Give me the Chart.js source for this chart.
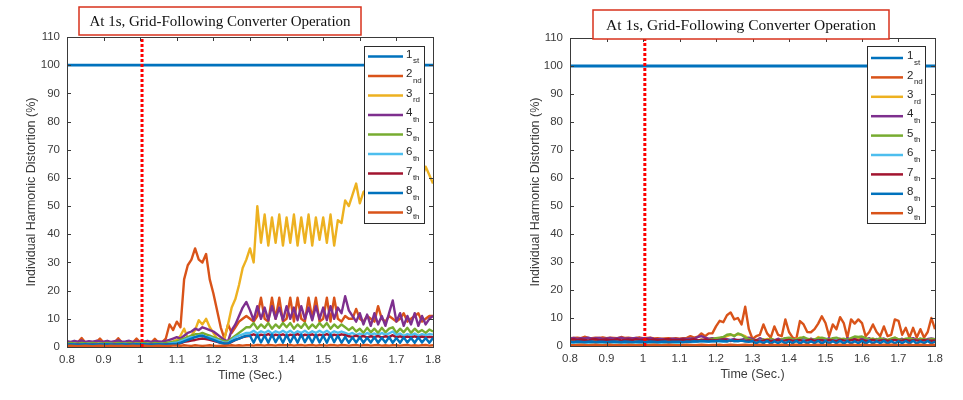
<!DOCTYPE html>
<html>
<head>
<meta charset="utf-8">
<script src="https://cdn.jsdelivr.net/npm/chart.js@4.4.0/dist/chart.umd.min.js"></script>
<style>
    body { margin: 0; background: #ffffff; }
    #contenedor { position: relative; width: 963px; height: 400px; }
    #grafico-izq { position: absolute; left: 0; top: 0; }
    #grafico-der { position: absolute; left: 480px; top: 0; }
</style>
</head>
<body>
<div id="contenedor">
    <canvas id="grafico-izq" width="480" height="400"></canvas>
    <canvas id="grafico-der" width="483" height="400"></canvas>
</div>
<script>
// Eje de tiempo compartido (s)
const tiempo = [
    0.80, 0.81, 0.82, 0.83, 0.84, 0.85, 0.86, 0.87, 0.88, 0.89,
    0.90, 0.91, 0.92, 0.93, 0.94, 0.95, 0.96, 0.97, 0.98, 0.99,
    1.00, 1.01, 1.02, 1.03, 1.04, 1.05, 1.06, 1.07, 1.08, 1.09,
    1.10, 1.11, 1.12, 1.13, 1.14, 1.15, 1.16, 1.17, 1.18, 1.19,
    1.20, 1.21, 1.22, 1.23, 1.24, 1.25, 1.26, 1.27, 1.28, 1.29,
    1.30, 1.31, 1.32, 1.33, 1.34, 1.35, 1.36, 1.37, 1.38, 1.39,
    1.40, 1.41, 1.42, 1.43, 1.44, 1.45, 1.46, 1.47, 1.48, 1.49,
    1.50, 1.51, 1.52, 1.53, 1.54, 1.55, 1.56, 1.57, 1.58, 1.59,
    1.60, 1.61, 1.62, 1.63, 1.64, 1.65, 1.66, 1.67, 1.68, 1.69,
    1.70, 1.71, 1.72, 1.73, 1.74, 1.75, 1.76, 1.77, 1.78, 1.79,
    1.80
]
const tiempoFundamental = [0.8, 1.8]

const ticksX = [0.8, 0.9, 1.0, 1.1, 1.2, 1.3, 1.4, 1.5, 1.6, 1.7, 1.8]
const etiquetasX = ['0.8', '0.9', '1', '1.1', '1.2', '1.3', '1.4', '1.5', '1.6', '1.7', '1.8']
const ticksY = [0, 10, 20, 30, 40, 50, 60, 70, 80, 90, 100, 110]

const ordinales = ['1', '2', '3', '4', '5', '6', '7', '8', '9']
const sufijos = ['st', 'nd', 'rd', 'th', 'th', 'th', 'th', 'th', 'th']
const coloresArmonicos = ['#0072BD', '#D95319', '#EDB120', '#7E2F8E', '#77AC30', '#4DBEEE', '#A2142F', '#0072BD', '#D95319']

const instanteEvento = 1.005
const tituloGrafico = 'At 1s, Grid-Following Converter Operation'
const tituloEjeX = 'Time (Sec.)'
const tituloEjeY = 'Individual Harmonic Distortion (%)'

// ---------- Grafico izquierdo ----------
const izq1 = [100, 100]
const izq2 = [
    1.5, 1.6, 1.5, 1.7, 3.2, 1.6, 1.5, 1.6, 1.7, 3.0,
    1.6, 1.5, 1.7, 1.6, 3.1, 1.6, 1.5, 1.7, 1.6, 3.0,
    1.6, 1.5, 1.7, 1.6, 2.9, 1.6, 1.7, 3.0, 8.0, 6.0,
    9, 7, 24, 29, 31, 35, 31, 30, 33, 24,
    19, 13, 7, 3, 8, 5, 7, 9, 10, 11,
    10, 9, 11, 17.5, 10, 9, 17.5, 10, 17.5, 9,
    10, 17.5, 9, 17.5, 10, 9, 17.5, 10, 17.5, 9,
    10, 17.5, 9, 17.5, 10, 9, 11, 10, 10, 13.5,
    10, 9, 11, 10, 9, 14.5, 10, 9, 11, 10,
    9, 10, 12, 9, 10, 11, 12, 9, 10, 11,
    11
]
const izq3 = [
    1.2, 1.1, 1.3, 1.2, 1.2, 1.1, 1.3, 1.2, 1.2, 1.1,
    1.2, 1.3, 1.1, 1.2, 1.2, 1.3, 1.1, 1.2, 1.2, 1.3,
    1.2, 1.1, 1.3, 1.2, 1.2, 1.3, 1.2, 1.4, 1.6, 2.0,
    2.5, 4.0, 6.5, 3.0, 4.0, 6.0, 9.5, 8.0, 10, 7.0,
    5.0, 3.0, 2.5, 3.0, 8.0, 14, 17, 22, 28, 31,
    35, 30, 50, 37, 47, 36, 46, 37, 47, 36,
    46, 37, 47, 36, 46, 37, 47, 36, 46, 38,
    46, 37, 47, 36, 45, 44, 52, 50, 54, 58,
    51, 55, 56, 58, 55, 57, 59, 56, 58, 60,
    58, 60, 61, 59, 62, 60, 61, 60, 64, 61,
    58
]
const izq4 = [
    2.1, 1.8, 2.2, 1.9, 2.3, 1.8, 2.1, 1.9, 2.2, 2.0,
    1.9, 2.2, 1.8, 2.1, 2.3, 1.9, 2.0, 2.2, 1.8, 2.1,
    2.0, 1.9, 2.2, 1.8, 2.1, 2.0, 1.9, 2.2, 2.5, 3.0,
    3.5, 3.0, 4.0, 5.0, 5.5, 6.5, 6.0, 7.0, 6.5, 6.0,
    5.5, 4.5, 3.5, 2.5, 2.0, 6.0, 8.0, 11, 14, 16,
    13, 9.5, 14.5, 10, 14, 9.5, 14.5, 10, 14, 9.5,
    14.5, 10, 14, 9.5, 14.5, 10, 14, 9.5, 14.5, 10,
    14, 9.5, 14.5, 10, 14, 12, 18, 13, 11, 9,
    12, 8, 11.5, 7.5, 12, 8, 11, 7.5, 12, 16.5,
    9, 12, 7.5, 11, 8, 12, 7.5, 11, 8, 10,
    11
]
const izq5 = [
    1.3, 1.4, 1.3, 1.2, 1.4, 1.3, 1.3, 1.4, 1.2, 1.3,
    1.3, 1.4, 1.3, 1.2, 1.4, 1.3, 1.3, 1.4, 1.2, 1.3,
    1.3, 1.4, 1.3, 1.2, 1.4, 1.3, 1.3, 1.4, 1.6, 1.8,
    2.0, 2.5, 3.0, 3.5, 4.0, 4.5, 4.5, 5.0, 4.5, 4.0,
    3.5, 3.0, 2.5, 2.0, 2.0, 3.0, 4.0, 5.0, 6.0, 7.0,
    7.0, 8.5, 6.5, 8.0, 6.8, 8.5, 6.5, 8.0, 6.8, 8.5,
    7.0, 8.5, 6.5, 8.0, 6.8, 8.5, 6.5, 8.0, 6.8, 8.5,
    7.0, 8.5, 6.5, 8.0, 6.8, 8.0, 7.0, 6.0, 7.0, 5.5,
    6.5, 5.0, 6.8, 5.2, 6.5, 5.0, 6.8, 5.2, 6.5, 7.0,
    5.0, 6.5, 5.2, 6.8, 5.0, 6.5, 5.2, 6.0, 5.0, 6.2,
    5.5
]
const izq6 = [
    1.0, 0.9, 1.1, 1.0, 0.9, 1.0, 1.1, 0.9, 1.0, 1.0,
    1.0, 0.9, 1.1, 1.0, 0.9, 1.0, 1.1, 0.9, 1.0, 1.0,
    1.0, 0.9, 1.1, 1.0, 0.9, 1.0, 1.1, 0.9, 1.2, 1.4,
    1.5, 2.0, 2.5, 3.0, 3.5, 3.5, 4.0, 4.0, 3.5, 3.5,
    3.0, 2.5, 2.0, 1.5, 1.5, 2.5, 3.5, 4.0, 4.5, 5.0,
    5.0, 5.8, 4.8, 5.6, 5.0, 5.8, 4.8, 5.6, 5.0, 5.8,
    5.0, 5.8, 4.8, 5.6, 5.0, 5.8, 4.8, 5.6, 5.0, 5.8,
    5.0, 5.8, 4.8, 5.6, 5.0, 5.5, 5.0, 4.5, 5.0, 4.2,
    4.8, 4.2, 5.0, 4.3, 4.8, 4.2, 5.0, 4.3, 4.8, 5.5,
    4.2, 4.8, 4.0, 4.6, 4.2, 4.8, 4.0, 4.6, 4.2, 4.6,
    4.4
]
const izq7 = [
    0.8, 0.7, 0.8, 0.9, 0.8, 0.7, 0.8, 0.9, 0.8, 0.7,
    0.8, 0.7, 0.8, 0.9, 0.8, 0.7, 0.8, 0.9, 0.8, 0.7,
    0.8, 0.7, 0.8, 0.9, 0.8, 0.7, 0.8, 0.9, 0.9, 1.0,
    1.0, 1.3, 1.8, 2.0, 2.3, 2.5, 2.8, 3.0, 2.8, 2.5,
    2.2, 1.8, 1.5, 1.2, 1.2, 1.8, 2.5, 3.0, 3.5, 3.8,
    4.0, 4.5, 3.8, 4.4, 4.0, 4.6, 3.8, 4.4, 4.0, 4.5,
    3.8, 4.4, 4.0, 4.6, 3.8, 4.4, 4.0, 4.5, 3.8, 4.4,
    4.0, 4.6, 3.8, 4.4, 4.0, 4.5, 4.2, 3.8, 3.6, 4.0,
    3.5, 3.9, 3.4, 3.8, 3.5, 3.9, 3.4, 3.8, 3.5, 4.2,
    3.4, 3.8, 3.3, 3.7, 3.4, 3.8, 3.3, 3.7, 3.4, 3.6,
    3.5
]
const izq8 = [
    0.9, 1.0, 0.9, 0.8, 0.9, 1.0, 0.9, 0.8, 0.9, 1.0,
    0.9, 1.0, 0.9, 0.8, 0.9, 1.0, 0.9, 0.8, 0.9, 1.0,
    0.9, 1.0, 0.9, 0.8, 0.9, 1.0, 0.9, 0.8, 1.0, 1.1,
    1.2, 1.5, 2.0, 2.5, 3.0, 3.5, 3.8, 4.0, 3.5, 3.0,
    2.5, 2.0, 1.5, 1.2, 1.2, 2.0, 2.5, 3.0, 3.5, 4.0,
    4.0, 1.5, 4.3, 1.6, 4.1, 1.5, 4.4, 1.7, 4.0, 1.5,
    4.3, 1.6, 4.1, 1.5, 4.4, 1.7, 4.0, 1.5, 4.3, 1.6,
    4.1, 1.5, 4.4, 1.7, 4.0, 1.5, 3.6, 1.5, 3.4, 1.6,
    3.5, 1.5, 3.3, 1.6, 3.5, 1.5, 3.3, 1.6, 3.5, 1.5,
    3.2, 1.5, 3.4, 1.6, 3.2, 1.5, 3.4, 1.6, 3.2, 1.5,
    3.2
]
const izq9 = [
    0.4, 0.5, 0.4, 0.3, 0.4, 0.5, 0.4, 0.3, 0.4, 0.5,
    0.4, 0.3, 0.5, 0.4, 0.4, 0.5, 0.3, 0.4, 0.5, 0.4,
    0.4, 0.5, 0.4, 0.3, 0.4, 0.5, 0.4, 0.3, 0.4, 0.5,
    0.5, 0.4, 0.6, 0.5, 0.4, 0.6, 0.5, 0.4, 0.5, 0.6,
    0.5, 0.4, 0.5, 0.4, 0.5, 0.6, 0.5, 0.6, 0.5, 0.6,
    0.6, 0.5, 0.7, 0.6, 0.5, 0.7, 0.6, 0.5, 0.7, 0.6,
    0.6, 0.7, 0.5, 0.6, 0.7, 0.5, 0.6, 0.7, 0.5, 0.6,
    0.6, 0.5, 0.7, 0.6, 0.5, 0.7, 0.6, 0.5, 0.6, 0.7,
    0.5, 0.6, 0.7, 0.5, 0.6, 0.7, 0.5, 0.6, 0.5, 0.6,
    0.6, 0.5, 0.6, 0.7, 0.5, 0.6, 0.5, 0.6, 0.7, 0.5,
    0.6
]

// ---------- Grafico derecho ----------
const der1 = [100, 100]
const der2 = [
    2.8, 2.9, 3.0, 2.8, 3.3, 2.9, 2.8, 3.0, 2.9, 3.1,
    2.8, 3.0, 2.9, 2.8, 3.2, 2.9, 3.0, 2.8, 2.9, 3.1,
    2.8, 2.9, 3.0, 2.7, 2.8, 2.6, 2.7, 2.8, 2.6, 2.8,
    2.6, 2.8, 2.9, 3.5, 3.0, 3.3, 4.5, 3.5, 4.5, 4.5,
    7.0, 9.0, 8.5, 11, 12, 9.5, 10, 7.7, 14, 6.0,
    2.5, 3.5, 4.0, 7.7, 4.5, 3.0, 7.0, 4.0, 3.5, 9.5,
    5.0, 3.0, 2.5, 8.9, 7.7, 5.0, 4.9, 6.0, 8.0, 10.6,
    8.2, 3.5, 7.7, 6.0, 10.3, 8.2, 3.0, 9.5, 8.0, 9.5,
    8.2, 3.5, 5.0, 7.7, 5.0, 3.5, 7.0, 3.5, 4.0, 9.5,
    9.0, 4.0, 6.5, 3.0, 6.5, 3.0, 6.0, 3.0, 5.0, 10,
    6.0
]
const der3 = [
    1.6, 1.7, 1.5, 1.6, 1.8, 1.6, 1.5, 1.7, 1.6, 1.5,
    1.6, 1.5, 1.7, 1.6, 1.5, 1.8, 1.6, 1.7, 1.5, 1.6,
    1.7, 1.6, 1.5, 1.6, 1.8, 1.6, 1.5, 1.7, 1.6, 1.5,
    1.6, 1.7, 1.8, 2.0, 2.2, 2.0, 2.3, 2.0, 2.2, 2.5,
    2.5, 2.8, 3.0, 3.5, 4.0, 3.8, 4.2, 4.0, 3.5, 2.5,
    2.0, 1.8, 2.2, 2.0, 2.5, 2.2, 2.0, 2.4, 2.0, 2.6,
    2.2, 2.0, 2.5, 3.0, 2.4, 2.2, 2.6, 2.0, 3.2, 2.5,
    2.2, 2.0, 2.4, 2.6, 2.0, 2.2, 2.5, 2.0, 2.3, 2.6,
    2.4, 2.0, 2.2, 2.6, 2.0, 2.4, 2.2, 2.0, 2.5, 3.0,
    2.2, 2.0, 2.4, 2.2, 2.0, 2.3, 2.1, 2.0, 2.2, 2.4,
    2.2
]
const der4 = [
    2.6, 2.9, 2.5, 2.8, 2.7, 3.0, 2.6, 2.8, 2.9, 2.5,
    2.7, 2.9, 2.6, 2.8, 3.0, 2.6, 2.8, 2.7, 2.9, 2.6,
    2.8, 2.7, 2.9, 2.5, 2.4, 2.5, 2.3, 2.4, 2.6, 2.5,
    2.4, 2.6, 2.5, 2.7, 2.6, 3.2, 3.5, 3.0, 2.6, 2.8,
    2.5, 2.3, 2.6, 2.4, 2.2, 2.5, 2.0, 2.3, 2.6, 3.0,
    2.5, 2.0, 2.8, 2.2, 1.8, 2.4, 2.0, 2.6, 2.2, 2.8,
    2.0, 2.5, 1.8, 2.4, 2.8, 2.0, 2.6, 2.2, 1.9, 2.5,
    2.2, 2.8, 2.0, 2.4, 2.6, 2.0, 2.8, 2.2, 2.5, 2.0,
    2.6, 2.2, 2.8, 2.0, 2.5, 2.2, 2.7, 2.0, 2.4, 2.8,
    2.2, 2.6, 2.0, 2.5, 2.8, 2.2, 2.6, 2.0, 2.5, 2.7,
    2.4
]
const der5 = [
    1.4, 1.5, 1.3, 1.4, 1.5, 1.4, 1.3, 1.5, 1.4, 1.3,
    1.4, 1.3, 1.5, 1.4, 1.3, 1.5, 1.4, 1.3, 1.4, 1.5,
    1.4, 1.5, 1.3, 1.4, 1.5, 1.4, 1.3, 1.5, 1.4, 1.3,
    1.4, 1.5, 1.6, 1.8, 1.7, 2.0, 2.2, 2.0, 2.2, 2.5,
    2.8, 3.0, 3.2, 4.0, 4.2, 3.5, 4.5, 4.0, 3.0, 2.5,
    2.0, 2.2, 1.8, 2.4, 2.0, 2.6, 2.2, 2.0, 2.4, 2.8,
    3.0, 2.4, 2.2, 2.8, 3.2, 2.6, 2.2, 2.4, 2.8, 3.0,
    2.6, 2.2, 2.8, 3.0, 2.4, 2.6, 2.2, 2.8, 3.4, 3.2,
    3.4, 2.8, 2.4, 2.6, 2.2, 2.8, 2.4, 2.2, 2.6, 3.0,
    2.4, 2.2, 2.6, 2.8, 2.4, 2.2, 2.6, 2.4, 2.2, 2.5,
    2.4
]
const der6 = [
    1.2, 1.1, 1.3, 1.2, 1.1, 1.2, 1.3, 1.1, 1.2, 1.2,
    1.1, 1.2, 1.3, 1.2, 1.1, 1.2, 1.1, 1.3, 1.2, 1.1,
    1.2, 1.1, 1.3, 1.2, 1.1, 1.2, 1.3, 1.1, 1.2, 1.2,
    1.2, 1.3, 1.4, 1.5, 1.4, 1.6, 1.8, 1.6, 1.5, 1.7,
    1.8, 1.6, 1.5, 1.8, 2.0, 1.7, 1.9, 2.2, 2.0, 1.8,
    1.6, 1.9, 2.2, 1.7, 1.5, 2.0, 1.8, 1.6, 2.1, 1.7,
    1.8, 2.0, 1.6, 1.9, 2.2, 1.7, 1.5, 2.0, 1.8, 1.6,
    2.1, 1.7, 1.9, 2.2, 1.6, 1.8, 2.0, 1.5, 1.9, 2.1,
    1.7, 1.9, 2.2, 1.6, 1.8, 2.0, 1.7, 1.5, 1.9, 2.2,
    1.6, 1.8, 2.0, 1.7, 1.9, 2.1, 1.6, 1.8, 2.0, 1.7,
    1.8
]
const der7 = [
    2.2, 2.4, 2.1, 2.3, 2.2, 2.0, 2.3, 2.4, 2.1, 2.2,
    2.3, 2.1, 2.2, 2.4, 2.0, 2.2, 2.3, 2.1, 2.4, 2.2,
    2.2, 2.4, 2.1, 2.3, 2.2, 2.0, 2.3, 2.4, 2.1, 2.2,
    2.2, 2.3, 2.1, 2.2, 2.4, 2.0, 2.2, 2.3, 2.1, 2.2,
    2.0, 2.2, 2.3, 2.0, 1.8, 2.0, 2.2, 2.1, 1.9, 2.0,
    1.8, 2.1, 1.9, 2.0, 2.2, 1.8, 2.0, 2.1, 1.9, 2.0,
    2.2, 1.9, 2.0, 2.1, 1.8, 2.0, 2.2, 1.9, 2.1, 2.0,
    1.9, 2.1, 2.0, 1.8, 2.2, 2.0, 1.9, 2.1, 2.3, 2.0,
    2.1, 1.9, 2.0, 2.2, 1.8, 2.0, 2.1, 1.9, 2.0, 2.2,
    1.9, 2.0, 2.2, 1.8, 2.1, 2.0, 1.9, 2.1, 2.0, 1.9,
    2.0
]
const der8 = [
    1.5, 1.4, 1.6, 1.5, 1.4, 1.5, 1.6, 1.4, 1.5, 1.5,
    1.4, 1.5, 1.6, 1.5, 1.4, 1.6, 1.5, 1.4, 1.5, 1.6,
    1.5, 1.4, 1.6, 1.5, 1.4, 1.5, 1.6, 1.4, 1.5, 1.5,
    1.5, 1.4, 1.6, 1.5, 1.7, 1.6, 1.8, 1.7, 1.6, 1.8,
    1.7, 1.9, 1.8, 1.6, 2.0, 1.8, 1.7, 1.9, 1.6, 1.5,
    1.8, 0.9, 1.7, 1.0, 1.9, 0.8, 1.7, 1.0, 1.8, 0.9,
    1.7, 1.0, 1.9, 0.8, 1.8, 0.9, 1.7, 1.0, 1.9, 0.8,
    1.8, 0.9, 1.7, 1.0, 1.9, 0.8, 1.8, 0.9, 1.7, 1.0,
    1.9, 0.8, 1.8, 0.9, 1.7, 1.0, 1.9, 0.8, 1.8, 0.9,
    1.7, 1.0, 1.8, 0.9, 1.9, 0.8, 1.7, 1.0, 1.8, 0.9,
    1.5
]
const der9 = [
    0.4, 0.3, 0.4, 0.5, 0.4, 0.3, 0.4, 0.5, 0.4, 0.3,
    0.4, 0.5, 0.3, 0.4, 0.4, 0.3, 0.5, 0.4, 0.3, 0.4,
    0.4, 0.3, 0.4, 0.5, 0.4, 0.3, 0.4, 0.5, 0.4, 0.3,
    0.3, 0.4, 0.5, 0.4, 0.3, 0.4, 0.5, 0.4, 0.3, 0.4,
    0.4, 0.5, 0.3, 0.4, 0.5, 0.4, 0.3, 0.4, 0.5, 0.4,
    0.4, 0.3, 0.5, 0.4, 0.3, 0.5, 0.4, 0.3, 0.5, 0.4,
    0.3, 0.4, 0.5, 0.3, 0.4, 0.5, 0.3, 0.4, 0.5, 0.3,
    0.4, 0.5, 0.3, 0.4, 0.5, 0.3, 0.4, 0.5, 0.4, 0.3,
    0.5, 0.4, 0.3, 0.5, 0.4, 0.3, 0.5, 0.4, 0.5, 0.4,
    0.4, 0.3, 0.4, 0.5, 0.3, 0.4, 0.5, 0.4, 0.3, 0.4,
    0.4
]

// Marco tipo MATLAB, leyenda con subindices y recuadro del titulo
const marcoMatlab = {
    id: 'marcoMatlab',
    afterDatasetsDraw(chart, args, opts) {
        const ctx = chart.ctx
        const ley = opts.leyenda
        ctx.save()
        ctx.fillStyle = '#ffffff'
        ctx.fillRect(ley.x, ley.y, ley.w, ley.h)
        ctx.strokeStyle = '#2b2b2b'
        ctx.lineWidth = 1
        ctx.strokeRect(ley.x + 0.5, ley.y + 0.5, ley.w, ley.h)
        ordinales.forEach((num, k) => {
            const y = ley.fila0 + k * ley.dy
            ctx.strokeStyle = coloresArmonicos[k]
            ctx.lineWidth = 2.5
            ctx.beginPath()
            ctx.moveTo(ley.linea0, y)
            ctx.lineTo(ley.linea1, y)
            ctx.stroke()
            ctx.fillStyle = '#262626'
            ctx.textBaseline = 'middle'
            ctx.font = '11.5px "Liberation Sans", Arial, sans-serif'
            ctx.fillText(num, ley.texto, y - 2)
            const anchoNum = ctx.measureText(num).width
            ctx.font = '8px "Liberation Sans", Arial, sans-serif'
            ctx.fillText(sufijos[k], ley.texto + anchoNum + 0.5, y + 4.5)
        })
        ctx.restore()
    },
    afterDraw(chart, args, opts) {
        const ctx = chart.ctx
        const area = chart.chartArea
        const { x, y } = chart.scales
        const largo = 4
        ctx.save()
        ctx.strokeStyle = '#3a3a3a'
        ctx.lineWidth = 1
        ctx.strokeRect(Math.round(area.left) + 0.5, Math.round(area.top) + 0.5,
            Math.round(area.right - area.left), Math.round(area.bottom - area.top))
        ctx.beginPath()
        ticksX.forEach(v => {
            const px = Math.round(x.getPixelForValue(v)) + 0.5
            ctx.moveTo(px, area.bottom)
            ctx.lineTo(px, area.bottom - largo)
            ctx.moveTo(px, area.top)
            ctx.lineTo(px, area.top + largo)
        })
        ticksY.forEach(v => {
            const py = Math.round(y.getPixelForValue(v)) + 0.5
            ctx.moveTo(area.left, py)
            ctx.lineTo(area.left + largo, py)
            ctx.moveTo(area.right, py)
            ctx.lineTo(area.right - largo, py)
        })
        ctx.stroke()

        // recuadro del titulo
        const t = opts.titulo
        ctx.fillStyle = '#ffffff'
        ctx.fillRect(t.x, t.y, t.w, t.h)
        ctx.strokeStyle = '#d8321c'
        ctx.lineWidth = 1.5
        ctx.strokeRect(t.x, t.y, t.w, t.h)
        ctx.fillStyle = '#111111'
        ctx.font = t.fuente + ' "Liberation Serif", "Times New Roman", serif'
        ctx.textAlign = 'center'
        ctx.textBaseline = 'middle'
        ctx.fillText(tituloGrafico, t.x + t.w / 2, t.y + t.h / 2 + 1)
        ctx.restore()
    }
}

function graficoArmonicos(idCanvas, series, geo) {
    const canvas = document.getElementById(idCanvas)
    const contexto = canvas.getContext('2d')

    const datasets = series.map((valores, k) => {
        const tiempos = k === 0 ? tiempoFundamental : tiempo
        return {
            label: ordinales[k] + sufijos[k],
            data: tiempos.map((t, i) => ({ x: t, y: valores[i] })),
            borderColor: coloresArmonicos[k],
            borderWidth: k === 0 ? 2.8 : 2.4,
            borderJoinStyle: 'round',
            pointRadius: 0,
            tension: 0,
            order: 10 - k
        }
    })
    // linea punteada del evento en t = 1 s
    datasets.push({
        label: 'evento',
        data: [{ x: instanteEvento, y: 0 }, { x: instanteEvento, y: 110 }],
        borderColor: '#ff0000',
        borderWidth: 3,
        borderDash: [3, 2],
        pointRadius: 0,
        order: 0
    })

    const colorTexto = '#3c3c3c'

    return new Chart(contexto, {
        type: 'line',
        data: { datasets },
        plugins: [marcoMatlab],
        options: {
            responsive: false,
            animation: false,
            devicePixelRatio: 1,
            layout: { padding: { left: 0, right: geo.padDer, top: geo.padSup, bottom: geo.padInf } },
            plugins: {
                legend: { display: false },
                tooltip: { enabled: false },
                title: { display: false },
                marcoMatlab: { leyenda: geo.leyenda, titulo: geo.titulo }
            },
            scales: {
                x: {
                    type: 'linear',
                    min: 0.8,
                    max: 1.8,
                    afterBuildTicks: s => { s.ticks = ticksX.map(v => ({ value: v })) },
                    afterFit: s => { s.height = geo.altoEjeX },
                    grid: { display: false, drawTicks: false },
                    border: { display: false },
                    ticks: {
                        autoSkip: false,
                        maxRotation: 0,
                        padding: 6,
                        color: colorTexto,
                        font: { family: '"Liberation Sans", Arial, sans-serif', size: 11.5 },
                        callback: (v, i) => etiquetasX[i]
                    },
                    title: {
                        display: true,
                        text: tituloEjeX,
                        color: colorTexto,
                        padding: { top: 0, bottom: 0 },
                        font: { family: '"Liberation Sans", Arial, sans-serif', size: 12.5 }
                    }
                },
                y: {
                    min: 0,
                    max: 110,
                    afterBuildTicks: s => { s.ticks = ticksY.map(v => ({ value: v })) },
                    afterFit: s => { s.width = geo.anchoEjeY },
                    grid: { display: false, drawTicks: false },
                    border: { display: false },
                    ticks: {
                        padding: 7,
                        color: colorTexto,
                        font: { family: '"Liberation Sans", Arial, sans-serif', size: 11.5 },
                        callback: v => String(v)
                    },
                    title: {
                        display: true,
                        text: tituloEjeY,
                        color: colorTexto,
                        padding: { top: geo.padTituloY, bottom: 0 },
                        font: { family: '"Liberation Sans", Arial, sans-serif', size: 12.5 }
                    }
                }
            }
        }
    })
}

graficoArmonicos('grafico-izq', [izq1, izq2, izq3, izq4, izq5, izq6, izq7, izq8, izq9], {
    anchoEjeY: 67, altoEjeX: 36, padDer: 47, padSup: 37, padInf: 17, padTituloY: 24,
    leyenda: { x: 364, y: 46, w: 60, h: 177, linea0: 368, linea1: 403, texto: 406, fila0: 56.5, dy: 19.5 },
    titulo: { x: 79, y: 7, w: 282, h: 28, fuente: '15px' }
})

graficoArmonicos('grafico-der', [der1, der2, der3, der4, der5, der6, der7, der8, der9], {
    anchoEjeY: 90, altoEjeX: 36, padDer: 28, padSup: 38, padInf: 18, padTituloY: 48,
    leyenda: { x: 387, y: 46, w: 58, h: 177, linea0: 391, linea1: 423, texto: 427, fila0: 58, dy: 19.4 },
    titulo: { x: 113, y: 10, w: 296, h: 29, fuente: '15.5px' }
})
</script>
</body>
</html>
